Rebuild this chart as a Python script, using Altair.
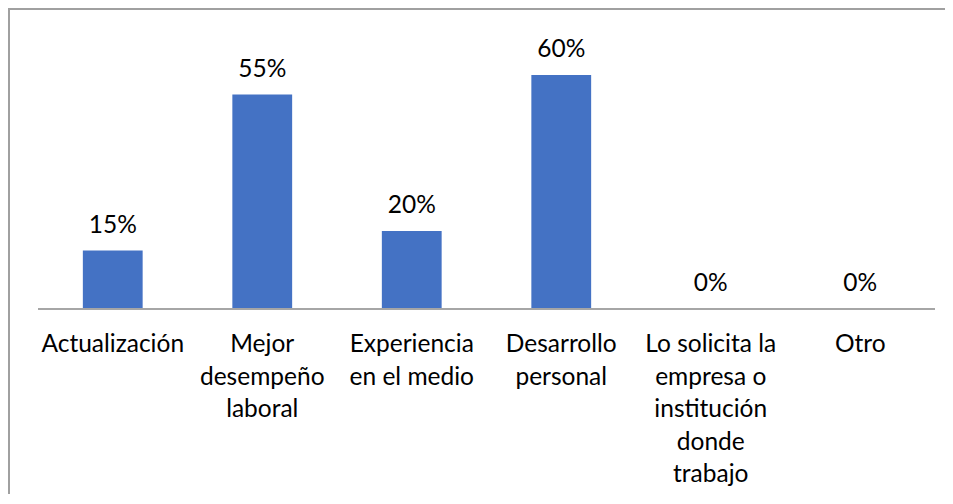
import altair as alt
import pandas as pd

categories = ["Actualización", "Mejor desempeño laboral", "Experiencia en el medio",
              "Desarrollo personal", "Lo solicita la empresa o institución donde trabajo", "Otro"]
display_labels = ["Actualización", "Mejor\ndesempeño\nlaboral", "Experiencia\nen el medio",
                  "Desarrollo\npersonal", "Lo solicita la\nempresa o\ninstitución\ndonde\ntrabajo", "Otro"]
values = [15, 55, 20, 60, 0, 0]

df = pd.DataFrame({"cat": categories, "lab": display_labels, "val": values})
df["txt"] = df["val"].astype(str) + "%"

FONT = "Lato"
FS = 24.5
W, H = 897, 273

x = alt.X("cat:N", sort=categories, axis=None,
          scale=alt.Scale(paddingInner=0.6, paddingOuter=0.3))
y = alt.Y("val:Q", axis=None, scale=alt.Scale(domain=[0, 70], nice=False))

bars = alt.Chart(df).mark_bar(color="#4472C4").encode(x=x, y=y)

vlabels = alt.Chart(df).mark_text(font=FONT, fontSize=FS, color="#000000",
                                  baseline="alphabetic", dy=-18).encode(x=x, y=y, text="txt:N")

base_rule = alt.Chart(df).mark_rule(color="#A6A6A6", strokeWidth=1.3).encode(
    x=alt.value(0), x2=alt.value(W), y=alt.value(H))

xlabels = alt.Chart(df).mark_text(font=FONT, fontSize=FS, color="#000000",
                                  baseline="alphabetic", lineBreak="\n", lineHeight=32.5).encode(
    x=x, y=alt.value(H + 43), text="lab:N")

border_left = alt.Chart(df).mark_rule(color="#A0A0A0", strokeWidth=2).encode(
    x=alt.value(-29), y=alt.value(-28), y2=alt.value(H + 185))
border_top = alt.Chart(df).mark_rule(color="#A0A0A0", strokeWidth=2).encode(
    x=alt.value(-30), x2=alt.value(W + 12), y=alt.value(-27))

chart = alt.layer(bars, vlabels, base_rule, xlabels, border_left, border_top).properties(
    width=W, height=H,
    padding={"left": 30, "top": 28, "right": 10, "bottom": 185},
    autosize=alt.AutoSizeParams(type="none"),
).configure_view(strokeWidth=0)

chart.save("out.html", embed_options={"renderer": "svg", "actions": False})
